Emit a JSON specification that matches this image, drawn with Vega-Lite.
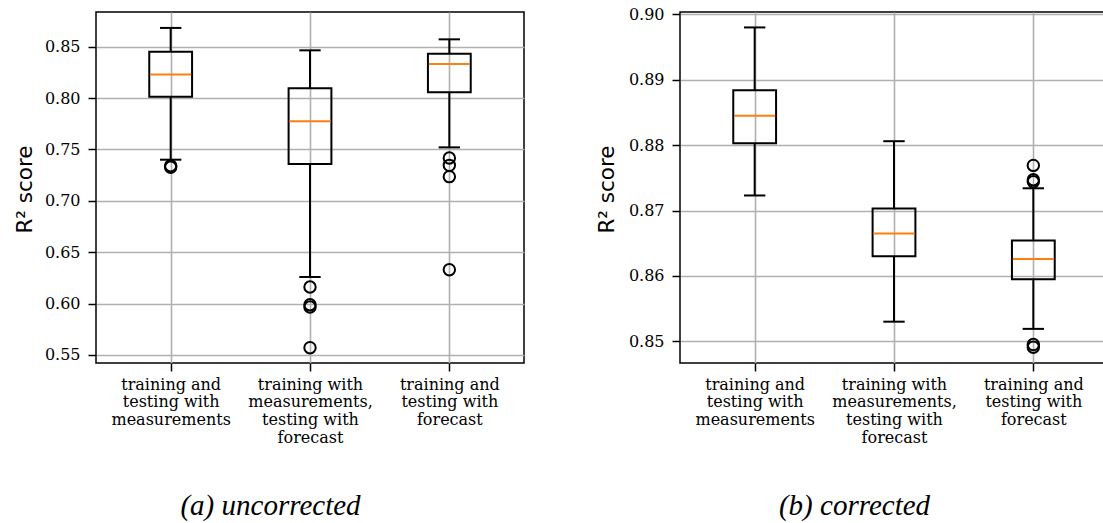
{
  "$schema": "https://vega.github.io/schema/vega-lite/v6.json",
  "background": "white",
  "padding": {"left": 13, "top": 5, "right": 0, "bottom": 0},
  "spacing": 156,
  "bounds": "flush",
  "config": {
    "view": {"stroke": "black", "strokeWidth": 1.5},
    "axis": {
      "domain": false,
      "labelFont": "DejaVu Serif",
      "labelFontSize": 16,
      "labelColor": "black",
      "labelOverlap": false,
      "labelFlush": false,
      "tickColor": "black",
      "tickWidth": 1.5,
      "tickSize": 8,
      "grid": true,
      "gridColor": "#b0b0b0",
      "gridWidth": 1.6,
      "titleColor": "black",
      "titleFontWeight": "normal"
    },
    "axisY": {
      "labelPadding": 8,
      "titleFont": "DejaVu Sans",
      "titleFontSize": 21.5,
      "titleBaseline": "alphabetic",
      "titleAngle": -90,
      "titleAlign": "center"
    },
    "axisX": {
      "labelPadding": 5,
      "labelFontSize": 16,
      "labelLineHeight": 17.7,
      "labelAngle": 0,
      "labelAlign": "center",
      "titleFont": "Liberation Serif",
      "titleFontStyle": "italic",
      "titleFontSize": 29,
      "titleX": 174,
      "titleY": 151,
      "titleBaseline": "alphabetic",
      "titleAlign": "center"
    }
  },
  "datasets": {
    "boxes_a": [
      {"pos": 1, "lo": 0.7400, "q1": 0.8013, "med": 0.8228, "q3": 0.8451, "hi": 0.8682},
      {"pos": 2, "lo": 0.6259, "q1": 0.7358, "med": 0.7773, "q3": 0.8095, "hi": 0.8464},
      {"pos": 3, "lo": 0.7520, "q1": 0.8056, "med": 0.8331, "q3": 0.8432, "hi": 0.8571}
    ],
    "out_a": [
      {"pos": 1, "value": 0.7341},
      {"pos": 1, "value": 0.7326},
      {"pos": 2, "value": 0.6161},
      {"pos": 2, "value": 0.5989},
      {"pos": 2, "value": 0.5967},
      {"pos": 2, "value": 0.5571},
      {"pos": 3, "value": 0.7417},
      {"pos": 3, "value": 0.7345},
      {"pos": 3, "value": 0.7235},
      {"pos": 3, "value": 0.6330}
    ],
    "boxes_b": [
      {"pos": 1, "lo": 0.8723, "q1": 0.8803, "med": 0.8845, "q3": 0.8884, "hi": 0.8980},
      {"pos": 2, "lo": 0.8530, "q1": 0.8630, "med": 0.8665, "q3": 0.8703, "hi": 0.8806},
      {"pos": 3, "lo": 0.8519, "q1": 0.8595, "med": 0.8626, "q3": 0.8654, "hi": 0.8734}
    ],
    "out_b": [
      {"pos": 3, "value": 0.8769},
      {"pos": 3, "value": 0.8747},
      {"pos": 3, "value": 0.8744},
      {"pos": 3, "value": 0.8495},
      {"pos": 3, "value": 0.8491}
    ]
  },
  "hconcat": [
    {
      "width": 428,
      "height": 351,
      "encoding": {
        "x": {
          "field": "pos",
          "type": "quantitative",
          "scale": {"domain": [0.5, 3.5], "nice": false, "zero": false},
          "axis": {
            "values": [1, 2, 3],
            "title": "(a) uncorrected",
            "labelExpr": "datum.value == 1 ? ['training and', 'testing with', 'measurements'] : datum.value == 2 ? ['training with', 'measurements,', 'testing with', 'forecast'] : ['training and', 'testing with', 'forecast']"
          }
        }
      },
      "layer": [
        {
          "data": {"name": "boxes_a"},
          "mark": {"type": "rule", "color": "black", "strokeWidth": 2},
          "encoding": {
            "y": {
              "field": "lo",
              "type": "quantitative",
              "scale": {"domain": [0.5422, 0.8837], "nice": false, "zero": false},
              "axis": {
                "values": [0.55, 0.6, 0.65, 0.7, 0.75, 0.8, 0.85],
                "format": ".2f",
                "title": "R² score",
                "titleX": -65,
                "titleY": 177
              }
            },
            "y2": {"field": "q1"}
          }
        },
        {
          "data": {"name": "boxes_a"},
          "mark": {"type": "rule", "color": "black", "strokeWidth": 2},
          "encoding": {
            "y": {"field": "q3", "type": "quantitative", "scale": {"domain": [0.5422, 0.8837], "nice": false, "zero": false}},
            "y2": {"field": "hi"}
          }
        },
        {
          "data": {"name": "boxes_a"},
          "mark": {"type": "tick", "orient": "horizontal", "color": "black", "size": 21.4, "thickness": 2, "opacity": 1},
          "encoding": {
            "y": {"field": "lo", "type": "quantitative", "scale": {"domain": [0.5422, 0.8837], "nice": false, "zero": false}}
          }
        },
        {
          "data": {"name": "boxes_a"},
          "mark": {"type": "tick", "orient": "horizontal", "color": "black", "size": 21.4, "thickness": 2, "opacity": 1},
          "encoding": {
            "y": {"field": "hi", "type": "quantitative", "scale": {"domain": [0.5422, 0.8837], "nice": false, "zero": false}}
          }
        },
        {
          "data": {"name": "boxes_a"},
          "mark": {"type": "bar", "orient": "vertical", "width": 42.8, "color": "black", "fillOpacity": 0, "stroke": "black", "strokeWidth": 2},
          "encoding": {
            "y": {"field": "q1", "type": "quantitative", "scale": {"domain": [0.5422, 0.8837], "nice": false, "zero": false}},
            "y2": {"field": "q3"}
          }
        },
        {
          "data": {"name": "boxes_a"},
          "mark": {"type": "tick", "orient": "horizontal", "color": "#ff7f0e", "size": 41, "thickness": 2, "opacity": 1},
          "encoding": {
            "y": {"field": "med", "type": "quantitative", "scale": {"domain": [0.5422, 0.8837], "nice": false, "zero": false}}
          }
        },
        {
          "data": {"name": "out_a"},
          "mark": {"type": "point", "shape": "circle", "filled": false, "stroke": "black", "strokeWidth": 2, "size": 130, "opacity": 1},
          "encoding": {
            "y": {"field": "value", "type": "quantitative", "scale": {"domain": [0.5422, 0.8837], "nice": false, "zero": false}}
          }
        }
      ]
    },
    {
      "width": 428,
      "height": 351,
      "encoding": {
        "x": {
          "field": "pos",
          "type": "quantitative",
          "scale": {"domain": [0.5, 3.5], "nice": false, "zero": false},
          "axis": {
            "values": [1, 2, 3],
            "title": "(b) corrected",
            "labelExpr": "datum.value == 1 ? ['training and', 'testing with', 'measurements'] : datum.value == 2 ? ['training with', 'measurements,', 'testing with', 'forecast'] : ['training and', 'testing with', 'forecast']"
          }
        }
      },
      "layer": [
        {
          "data": {"name": "boxes_b"},
          "mark": {"type": "rule", "color": "black", "strokeWidth": 2},
          "encoding": {
            "y": {
              "field": "lo",
              "type": "quantitative",
              "scale": {"domain": [0.84668, 0.90036], "nice": false, "zero": false},
              "axis": {
                "values": [0.85, 0.86, 0.87, 0.88, 0.89, 0.9],
                "format": ".2f",
                "title": "R² score",
                "titleX": -67,
                "titleY": 177
              }
            },
            "y2": {"field": "q1"}
          }
        },
        {
          "data": {"name": "boxes_b"},
          "mark": {"type": "rule", "color": "black", "strokeWidth": 2},
          "encoding": {
            "y": {"field": "q3", "type": "quantitative", "scale": {"domain": [0.84668, 0.90036], "nice": false, "zero": false}},
            "y2": {"field": "hi"}
          }
        },
        {
          "data": {"name": "boxes_b"},
          "mark": {"type": "tick", "orient": "horizontal", "color": "black", "size": 21.4, "thickness": 2, "opacity": 1},
          "encoding": {
            "y": {"field": "lo", "type": "quantitative", "scale": {"domain": [0.84668, 0.90036], "nice": false, "zero": false}}
          }
        },
        {
          "data": {"name": "boxes_b"},
          "mark": {"type": "tick", "orient": "horizontal", "color": "black", "size": 21.4, "thickness": 2, "opacity": 1},
          "encoding": {
            "y": {"field": "hi", "type": "quantitative", "scale": {"domain": [0.84668, 0.90036], "nice": false, "zero": false}}
          }
        },
        {
          "data": {"name": "boxes_b"},
          "mark": {"type": "bar", "orient": "vertical", "width": 42.8, "color": "black", "fillOpacity": 0, "stroke": "black", "strokeWidth": 2},
          "encoding": {
            "y": {"field": "q1", "type": "quantitative", "scale": {"domain": [0.84668, 0.90036], "nice": false, "zero": false}},
            "y2": {"field": "q3"}
          }
        },
        {
          "data": {"name": "boxes_b"},
          "mark": {"type": "tick", "orient": "horizontal", "color": "#ff7f0e", "size": 41, "thickness": 2, "opacity": 1},
          "encoding": {
            "y": {"field": "med", "type": "quantitative", "scale": {"domain": [0.84668, 0.90036], "nice": false, "zero": false}}
          }
        },
        {
          "data": {"name": "out_b"},
          "mark": {"type": "point", "shape": "circle", "filled": false, "stroke": "black", "strokeWidth": 2, "size": 130, "opacity": 1},
          "encoding": {
            "y": {"field": "value", "type": "quantitative", "scale": {"domain": [0.84668, 0.90036], "nice": false, "zero": false}}
          }
        }
      ]
    }
  ]
}
